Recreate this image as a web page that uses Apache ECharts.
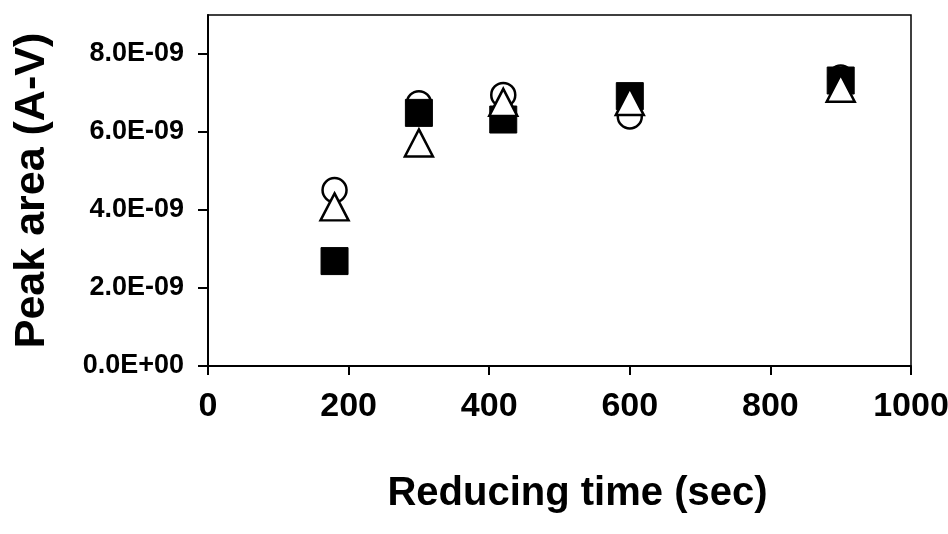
<!DOCTYPE html>
<html>
<head>
<meta charset="utf-8">
<script src="https://cdn.jsdelivr.net/npm/echarts@6/dist/echarts.min.js"></script>
<style>
  html, body { margin: 0; padding: 0; background: #fff; }
  #chart { width: 948px; height: 534px; }
</style>
</head>
<body>
<div id="chart"></div>
<script>
// Reducing time (sec) for each measurement
const reducingTimes = [180, 300, 420, 600, 900];
// Peak area (A-V) for the three sample sets
const circleAreas   = [4.51e-9, 6.74e-9, 6.95e-9, 6.40e-9, 7.40e-9];
const squareAreas   = [2.69e-9, 6.49e-9, 6.32e-9, 6.92e-9, 7.32e-9];
const triangleAreas = [4.08e-9, 5.72e-9, 6.76e-9, 6.78e-9, 7.12e-9];
// Axis tick values
const xTicks = [0, 200, 400, 600, 800, 1000];
const yTicks = [0, 2e-9, 4e-9, 6e-9, 8e-9];

const FONT = '"Liberation Sans", Arial, sans-serif';

function pairs(xs, ys) { return xs.map((x, i) => [x, ys[i]]); }

function sci(v) {
  // e.g. 8.0E-09, 0.0E+00
  if (Math.abs(v) < 1e-15) return '0.0E+00';
  const s = v.toExponential(1).toUpperCase();
  const m = s.match(/^(-?[\d.]+)E([+-])(\d+)$/);
  return m[1] + 'E' + m[2] + m[3].padStart(2, '0');
}

const chart = echarts.init(document.getElementById('chart'), null, { renderer: 'canvas' });

chart.setOption({
  animation: false,
  backgroundColor: '#fff',
  grid: {
    left: 208, right: 37, top: 15, bottom: 168,
    containLabel: false,
    outerBoundsMode: 'none',
    show: true, borderColor: '#000', borderWidth: 1.5, backgroundColor: 'transparent'
  },
  xAxis: {
    type: 'value',
    min: 0, max: 1000, interval: 200,
    name: 'Reducing time (sec)',
    nameLocation: 'middle',
    nameGap: 108,
    nameTextStyle: {
      fontFamily: FONT, fontWeight: 'bold', fontSize: 40, color: '#000',
      padding: [0, 0, 0, 36]
    },
    axisLine: { show: true, onZero: false, lineStyle: { color: '#000', width: 2 } },
    axisTick: { show: true, inside: false, length: 9, lineStyle: { color: '#000', width: 2 }, customValues: xTicks },
    axisLabel: {
      customValues: xTicks,
      hideOverlap: false,
      margin: 24, fontFamily: FONT, fontWeight: 'bold', fontSize: 34, color: '#000',
      formatter: v => String(Math.round(v))
    },
    splitLine: { show: false }
  },
  yAxis: {
    type: 'value',
    min: 0, max: 9e-9, interval: 2e-9,
    name: 'Peak area (A-V)',
    nameLocation: 'middle',
    nameGap: 154,
    nameRotate: 90,
    nameTextStyle: { fontFamily: FONT, fontWeight: 'bold', fontSize: 43, color: '#000' },
    axisLine: { show: true, onZero: false, lineStyle: { color: '#000', width: 2 } },
    axisTick: { show: true, inside: false, length: 10, lineStyle: { color: '#000', width: 2 }, customValues: yTicks },
    axisLabel: {
      customValues: yTicks,
      hideOverlap: false,
      margin: 24, fontFamily: FONT, fontWeight: 'bold', fontSize: 27, color: '#000',
      formatter: v => (v > 8.5e-9 ? '' : sci(v))
    },
    splitLine: { show: false }
  },
  series: [
    {
      name: 'circle',
      type: 'scatter',
      symbol: 'circle',
      symbolSize: 24,
      data: pairs(reducingTimes, circleAreas),
      itemStyle: { color: '#fff', borderColor: '#000', borderWidth: 2.5, opacity: 1 },
      z: 2
    },
    {
      name: 'square',
      type: 'scatter',
      symbol: 'rect',
      symbolSize: 27,
      data: pairs(reducingTimes, squareAreas),
      itemStyle: { color: '#000', borderColor: '#000', borderWidth: 1, opacity: 1 },
      z: 3
    },
    {
      name: 'triangle',
      type: 'scatter',
      symbol: 'triangle',
      symbolSize: [28, 27],
      data: pairs(reducingTimes, triangleAreas),
      itemStyle: { color: '#fff', borderColor: '#000', borderWidth: 2.5, opacity: 1 },
      z: 4
    }
  ]
});
</script>
</body>
</html>
